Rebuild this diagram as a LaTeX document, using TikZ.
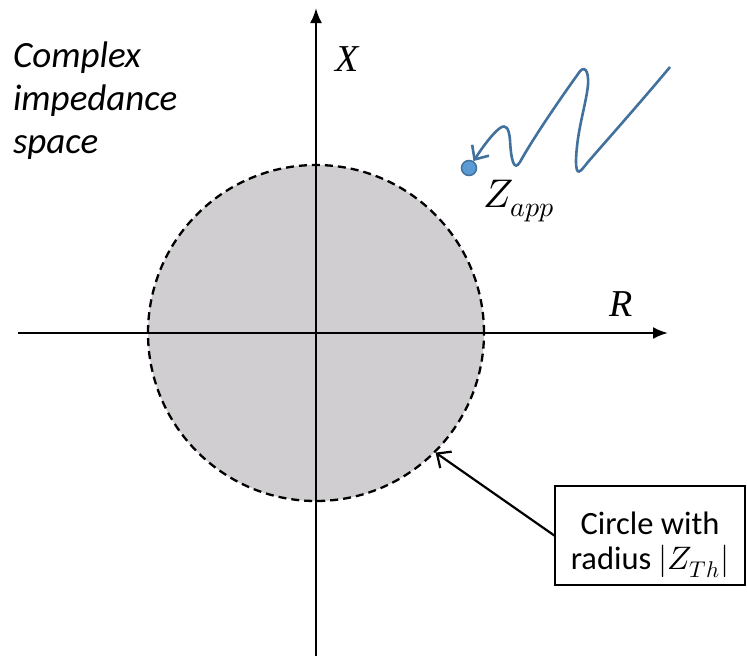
\documentclass[tikz,border=0pt]{standalone}
\usepackage{fontspec}
\usepackage{unicode-math}
\setsansfont{Carlito}
\setmathfont{Latin Modern Math}
\newfontfamily\timesfont{Liberation Serif}
\usetikzlibrary{arrows.meta, positioning, calc}
\definecolor{cfill}{HTML}{D0CED0}
\definecolor{cdot}{HTML}{5B9BD5}
\definecolor{cline}{HTML}{41719C}
\tikzset{
  every picture/.style={line width=2pt},
  axis/.style={-{Latex[length=15pt, width=12pt]}, line width=2.4pt},
  zone/.style={circle, draw, dash pattern=on 8pt off 5pt, fill=cfill, line width=2.3pt, inner sep=0pt},
  axlbl/.style={font=\timesfont\itshape\fontsize{38}{42}\selectfont, inner sep=0pt},
  note/.style={font=\sffamily\itshape\fontsize{37}{43}\selectfont, align=left, inner sep=0pt},
  zdot/.style={circle, fill=cdot, draw=cline, line width=1.5pt, minimum size=15pt, inner sep=0pt},
  zpath/.style={draw=cline, line width=2.6pt, -{Straight Barb[length=11pt, width=20pt]}},
  infobox/.style={draw, line width=1.4pt, align=center, minimum width=190pt, minimum height=99pt, text height=76pt, font=\sffamily\fontsize{32.5}{35}\selectfont},
  pointer/.style={-{Straight Barb[length=11pt, width=20pt]}, line width=2.2pt},
}

\begin{document}
\begin{tikzpicture}[x=1pt, y=-1pt]
  \useasboundingbox (0,0) rectangle (747,656);
  % impedance circle
  \node[zone, minimum size=336pt] (zth) at (316,333) {};
  % axes
  \coordinate (xl) at (18,333);
  \coordinate (xr) at (668,333);
  \coordinate (yb) at (316,656);
  \coordinate (yt) at (316,8);
  \draw[axis] (xl) -- (xr);
  \draw[axis] (yb) -- (yt);
  \node[axlbl, anchor=base] (xlab) at (347,71) {X};
  \node[axlbl, anchor=base] (rlab) at (621,316) {R};
  \node[note, anchor=north west] (space) at (12,41) {Complex\\impedance\\space};
  % apparent impedance trajectory
  \node[zdot] (zapp) at (469,168) {};
  \node[font=\fontsize{40}{44}\selectfont, anchor=base west, inner sep=0pt] (zlab) at (482,207) {$Z_{app}$};
  \coordinate (start) at (670,67);
  \draw[zpath] (start) .. controls (640,103) and (600,148) .. (588,162)
    .. controls (580,172) and (576,178) .. (576,160)
    .. controls (577,130) and (586,105) .. (588,85)
    .. controls (589,70) and (584,64) .. (578,74)
    .. controls (565,92) and (535,135) .. (520,162)
    .. controls (514,172) and (511,160) .. (510,140)
    .. controls (509,128) and (506,124) .. (500,128)
    .. controls (492,134) and (482,148) .. (zapp);
  % label box
  \node[infobox] (info) at (650,535.5) {Circle with\\radius $|Z_{Th}|$};
  \draw[pointer] (info.west) -- (zth.-45);
\end{tikzpicture}
\end{document}
